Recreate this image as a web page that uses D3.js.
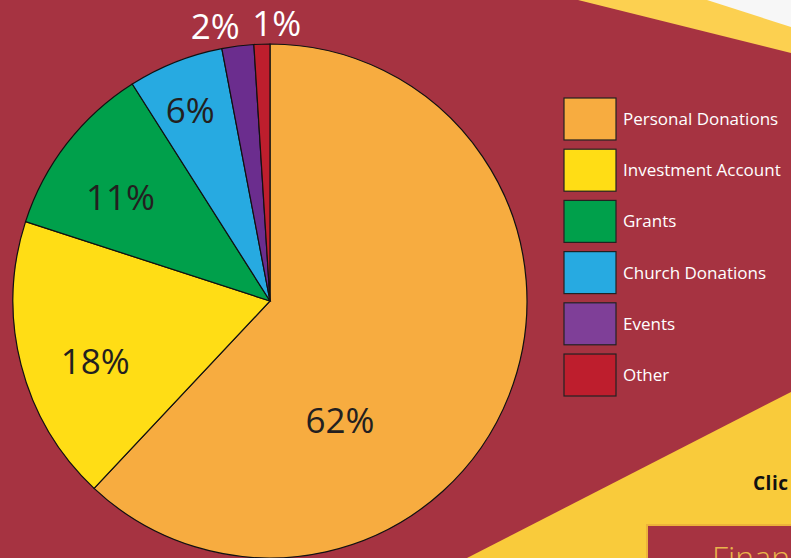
<!DOCTYPE html>
<html>
<head>
<meta charset="utf-8">
<script src="https://cdn.jsdelivr.net/npm/d3@7"></script>
<style>
  html, body { margin: 0; padding: 0; background: #A63341; overflow: hidden; }
  svg { display: block; }
</style>
</head>
<body>
<svg id="chart" width="791" height="558"></svg>
<script>
// ---- data ----
const categories = ["Personal Donations", "Investment Account", "Grants", "Church Donations", "Events", "Other"];
const values = [62, 18, 11, 6, 2, 1];
const labels = ["62%", "18%", "11%", "6%", "2%", "1%"];

// ---- style ----
const pieColors = ["#F7AC40", "#FFDD15", "#00A04B", "#27AAE1", "#6B2D8E", "#BE1E2D"];
const legendColors = ["#F7AC40", "#FFDD15", "#00A04B", "#27AAE1", "#7F3F98", "#BE1E2D"];
const labelColors = ["#231F20", "#231F20", "#231F20", "#231F20", "#FFFFFF", "#FFFFFF"];
// label placement: [angle in degrees clockwise from top, radius]
const labelPlacement = [[149.5, 138], [250.8, 185], [304.7, 182], [337.3, 207], [348.7, 280], [1.4, 278]];

const W = 791, H = 558;
const cx = 270, cy = 301, R = 257;
const svg = d3.select("#chart");
const font = "'Open Sans', 'Noto Sans', sans-serif";

// background decoration
svg.append("rect").attr("width", W).attr("height", H).attr("fill", "#A63341");
svg.append("polygon").attr("points", "578,0 791,0 791,53").attr("fill", "#FCD050");
svg.append("polygon").attr("points", "707,0 791,0 791,27").attr("fill", "#F7F7F7");
svg.append("polygon").attr("points", "467,558 791,392 791,558").attr("fill", "#F9CB3B");
svg.append("text").attr("x", 753).attr("y", 483).attr("dy", "0.35em").attr("font-family", font)
  .attr("font-weight", 700).attr("font-size", 19).attr("letter-spacing", 0.5).attr("fill", "#111").text("Clic");
svg.append("rect").attr("x", 647).attr("y", 525).attr("width", 200).attr("height", 60)
  .attr("fill", "#A63341").attr("stroke", "#EDB23A").attr("stroke-width", 2);
svg.append("text").attr("x", 712).attr("y", 569).attr("font-family", font)
  .attr("font-weight", 300).attr("font-size", 32).attr("fill", "#E9B44C").text("Finan");

// pie
const pie = d3.pie().sort(null).value(d => d)(values);
const arc = d3.arc().innerRadius(0).outerRadius(R);
const g = svg.append("g").attr("transform", `translate(${cx},${cy})`);
g.selectAll("path.slice").data(pie).join("path")
  .attr("class", "slice")
  .attr("d", arc)
  .attr("fill", (d, i) => pieColors[i])
  .attr("stroke", "#111")
  .attr("stroke-width", 1.2);

g.selectAll("text.lbl").data(pie).join("text")
  .attr("class", "lbl")
  .attr("x", (d, i) => labelPlacement[i][1] * Math.sin(labelPlacement[i][0] * Math.PI / 180))
  .attr("y", (d, i) => -labelPlacement[i][1] * Math.cos(labelPlacement[i][0] * Math.PI / 180))
  .attr("dy", "0.36em")
  .attr("text-anchor", "middle")
  .attr("font-family", font)
  .attr("font-size", 35)
  .attr("fill", (d, i) => labelColors[i])
  .text((d, i) => labels[i]);

// legend
const legendY = d3.scaleBand().domain(categories).range([98, 396]).paddingInner(0.18).paddingOuter(0);
const lg = svg.append("g");
const items = lg.selectAll("g").data(categories).join("g")
  .attr("transform", d => `translate(564,${legendY(d)})`);
items.append("rect")
  .attr("width", 52).attr("height", legendY.bandwidth())
  .attr("fill", (d, i) => legendColors[i])
  .attr("stroke", "#222").attr("stroke-width", 1.2);
items.append("text")
  .attr("x", 59).attr("y", legendY.bandwidth() / 2).attr("dy", "0.35em")
  .attr("font-family", font).attr("font-size", 17).attr("fill", "#FFFFFF")
  .text(d => d);
</script>
</body>
</html>
